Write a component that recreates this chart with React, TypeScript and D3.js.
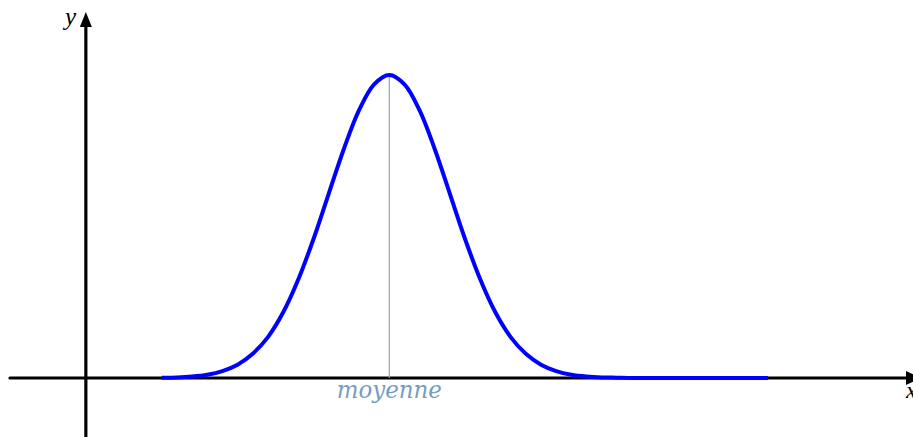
import React from "react";
import * as d3 from "d3";

// curve, x in units of sigma around the mean, y relative to the peak
const curveX = [
  -3.75, -3.5, -3.25, -3, -2.75, -2.5, -2.25, -2, -1.75, -1.5, -1.25, -1, -0.75, -0.5, -0.25,
  0, 0.25, 0.5, 0.75, 1, 1.25, 1.5, 1.75, 2, 2.25, 2.5, 2.75, 3, 3.25, 3.5, 3.75, 4, 4.5, 5, 5.5, 6.24,
];
const curveY = [
  0.001, 0.002, 0.005, 0.011, 0.023, 0.044, 0.08, 0.135, 0.216, 0.325, 0.458, 0.607, 0.755, 0.883, 0.969,
  1, 0.969, 0.883, 0.755, 0.607, 0.458, 0.325, 0.216, 0.135, 0.08, 0.044, 0.023, 0.011, 0.005, 0.002, 0.001, 0, 0, 0, 0, 0,
];
const meanX = 0;
const meanLabel = "moyenne";
const axisLabels = ["x", "y"];

const W = 913;
const H = 437;

export default function App() {
  const x = d3.scaleLinear().domain([-6.25, 8.63]).range([10, 913]);
  const y = d3.scaleLinear().domain([0, 1]).range([378, 75]);

  const pts: [number, number][] = curveX.map((v, i) => [v, curveY[i]]);
  const line = d3
    .line<[number, number]>()
    .x((d) => x(d[0]))
    .y((d) => y(d[1]))
    .curve(d3.curveCatmullRom);

  const x0 = x(-5); // y axis position
  const y0 = y(0);

  return (
    <svg
      width={W}
      height={H}
      style={{ position: "absolute", left: 0, top: 0, display: "block", background: "#fff" }}
    >
      {/* x axis */}
      <line x1={x.range()[0]} x2={906} y1={y0} y2={y0} stroke="#000" strokeWidth={3.2} strokeLinecap="round" />
      <path d={`M921,${y0} L906,${y0 - 7} L906,${y0 + 7} Z`} fill="#000" />
      {/* y axis */}
      <line x1={x0} x2={x0} y1={H} y2={25} stroke="#000" strokeWidth={3.2} />
      <path d={`M${x0},12 L${x0 - 6},27 L${x0 + 6},27 Z`} fill="#000" />

      {/* mean */}
      <line x1={x(meanX)} x2={x(meanX)} y1={y(1)} y2={y0} stroke="#8aa2bd" strokeWidth={1.2} />

      <path d={line(pts) || ""} fill="none" stroke="#0000ff" strokeWidth={4} strokeLinejoin="round" />

      <text
        x={x(meanX)}
        y={398}
        textAnchor="middle"
        fontFamily="'DejaVu Serif', serif"
        fontStyle="italic"
        fontSize={25}
        fill="#779cc4"
        textLength={105}
        lengthAdjust="spacingAndGlyphs"
      >
        {meanLabel}
      </text>

      <text x={906} y={398} fontFamily="'Liberation Serif', serif" fontStyle="italic" fontSize={24} fill="#000">
        {axisLabels[0]}
      </text>
      <text x={65} y={25} fontFamily="'Liberation Serif', serif" fontStyle="italic" fontSize={25} fill="#000">
        {axisLabels[1]}
      </text>
    </svg>
  );
}
